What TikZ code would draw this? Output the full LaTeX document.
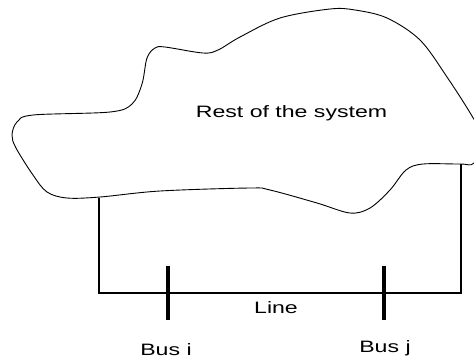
\documentclass[tikz,border=0pt]{standalone}
\usepackage{fontspec}
\setmainfont{Liberation Sans}
\begin{document}
\begin{tikzpicture}[x=1pt,y=-1pt,
  cloudline/.style={line width=0.9pt, line join=round},
  wire/.style={line width=1.5pt},
  busbar/.style={line width=3.5pt},
  lbl/.style={inner sep=0pt, font=\fontsize{16.5}{19}\selectfont}]
\useasboundingbox (0,0) rectangle (474,360);
\begin{scope}
\clip (0,0) rectangle (474,360);
\draw[cloudline] plot[smooth cycle, tension=0.55] coordinates {
 (12,135) (17,122) (33,115) (110,112) (132,104) (142,84) (147,58) (155,48) (165,47)
 (203,53) (218,50) (240,37) (280,18) (330,9) (355,10) (387,18) (420,40) (447,77)
 (472,116) (484,140) (474,163) (460,164) (423,164) (406,170) (390,190) (370,208)
 (350,213) (317,203) (270,190) (250,188) (160,191) (100,197) (67,198) (47,192)
 (33,175) (16,148)};
\end{scope}
\coordinate (lt) at (99,197.5);
\coordinate (rt) at (461,164);
\coordinate (lb) at (99,293);
\coordinate (rb) at (461,293);
\draw[wire] (lt) -- (lb) -- (rb) -- (rt);
\coordinate (bit) at (168,266);
\coordinate (bib) at (168,320);
\coordinate (bjt) at (384,266);
\coordinate (bjb) at (384,320);
\draw[busbar] (bit) -- (bib);
\draw[busbar] (bjt) -- (bjb);
\node[lbl] (sys) at (291.5,113) {\scalebox{1.4}[1]{Rest of the system}};
\node[lbl] (line) at (276,308) {\scalebox{1.4}[1]{Line}};
\node[lbl] (busi) at (166,350) {\scalebox{1.4}[1]{Bus i}};
\node[lbl] (busj) at (385,348) {\scalebox{1.4}[1]{Bus j}};
\end{tikzpicture}
\end{document}
